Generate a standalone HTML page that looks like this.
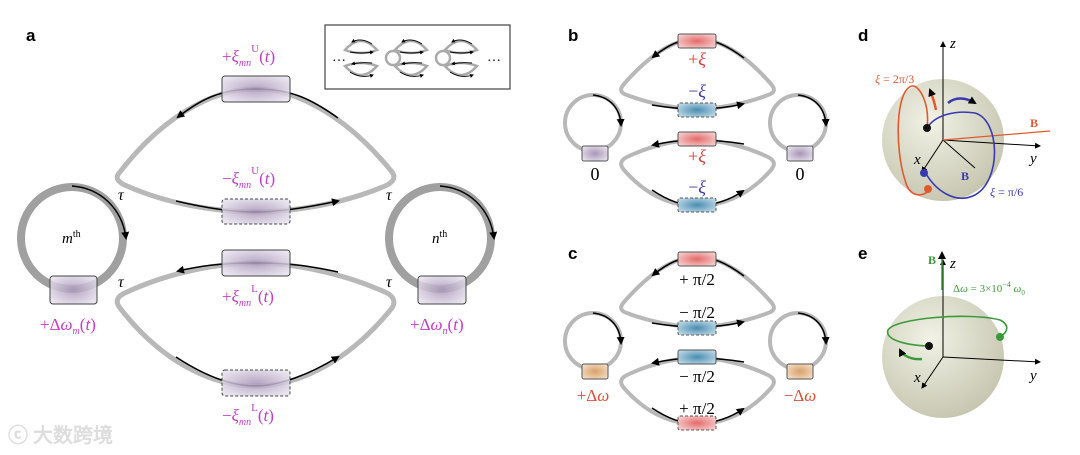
<!DOCTYPE html>
<html><head><meta charset="utf-8"><style>
html,body{margin:0;padding:0;background:#fff;}
svg{display:block;}
text{font-family:"Liberation Serif",serif;}
.lbl{font-family:"Liberation Sans",sans-serif;font-weight:bold;font-size:17px;fill:#000;}
.mg{fill:#c23cc8;font-size:17px;}
</style></head><body>
<svg width="1080" height="455" viewBox="0 0 1080 455" xmlns="http://www.w3.org/2000/svg">
<defs>
<radialGradient id="pu" cx="50%" cy="50%" r="60%"><stop offset="0" stop-color="#a896b8"/><stop offset="1" stop-color="#e6e0ec"/></radialGradient>
<radialGradient id="rd" cx="50%" cy="50%" r="60%"><stop offset="0" stop-color="#e46a6a"/><stop offset="1" stop-color="#f6cccc"/></radialGradient>
<radialGradient id="bl" cx="50%" cy="50%" r="60%"><stop offset="0" stop-color="#4a8cb0"/><stop offset="1" stop-color="#bcd8e6"/></radialGradient>
<radialGradient id="or" cx="50%" cy="50%" r="60%"><stop offset="0" stop-color="#d9a06a"/><stop offset="1" stop-color="#f3dcc4"/></radialGradient>
<radialGradient id="sp" cx="40%" cy="35%" r="70%"><stop offset="0" stop-color="#f2f2e6"/><stop offset="1" stop-color="#c4c4ae"/></radialGradient>
<marker id="ah" markerWidth="8" markerHeight="8" refX="6" refY="4" orient="auto" markerUnits="userSpaceOnUse"><path d="M0,0 L8,4 L0,8 Z" fill="#000"/></marker>
<marker id="ahs" markerWidth="6" markerHeight="6" refX="5" refY="3" orient="auto" markerUnits="userSpaceOnUse"><path d="M0,0 L6,3 L0,6 Z" fill="#000"/></marker>
<marker id="aht" markerWidth="4" markerHeight="4" refX="3" refY="2" orient="auto" markerUnits="userSpaceOnUse"><path d="M0,0 L4,2 L0,4 Z" fill="#000"/></marker>
</defs>

<!-- Panel a -->
<text x="26" y="41" class="lbl">a</text>
<rect x="325" y="25" width="185" height="64" fill="#fff" stroke="#444" stroke-width="1.2"/>
<g stroke="#aaa" stroke-width="2.5" fill="none">
 <path d="M345,50 Q361,32 377,50 Q361,56 345,50Z"/>
 <path d="M395,50 Q411,32 427,50 Q411,56 395,50Z"/>
 <path d="M445,50 Q461,32 477,50 Q461,56 445,50Z"/>
 <path d="M345,66 Q361,60 377,66 Q361,84 345,66Z"/>
 <path d="M395,66 Q411,60 427,66 Q411,84 395,66Z"/>
 <path d="M445,66 Q461,60 477,66 Q461,84 445,66Z"/>
 <circle cx="393" cy="58" r="7"/><circle cx="443" cy="58" r="7"/>
</g>
<g stroke="#000" stroke-width="0.9" fill="none">
 <path d="M372,44 Q361,37 352,42" marker-end="url(#aht)"/><path d="M422,44 Q411,37 402,42" marker-end="url(#aht)"/><path d="M472,44 Q461,37 452,42" marker-end="url(#aht)"/>
 <path d="M350,52 Q361,54 373,52" marker-end="url(#aht)"/><path d="M400,52 Q411,54 423,52" marker-end="url(#aht)"/><path d="M450,52 Q461,54 473,52" marker-end="url(#aht)"/>
 <path d="M372,63 Q361,62 352,64" marker-end="url(#aht)"/><path d="M422,63 Q411,62 402,64" marker-end="url(#aht)"/><path d="M472,63 Q461,62 452,64" marker-end="url(#aht)"/>
 <path d="M350,72 Q361,79 373,75" marker-end="url(#aht)"/><path d="M400,72 Q411,79 423,75" marker-end="url(#aht)"/><path d="M450,72 Q461,79 473,75" marker-end="url(#aht)"/>
</g>
<text x="332" y="61" font-size="14">…</text><text x="487" y="61" font-size="14">…</text>

<g fill="none" stroke="#b8b8b8" stroke-width="5" stroke-linejoin="round">
 <path d="M120,172 C160,120 210,89 255,89 C300,89 350,120 392,172 Q398,180 385,186 C340,205 290,212 255,212 C220,212 170,205 127,186 Q112,180 120,172Z"/>
 <path d="M127,292 C170,272 220,263 255,263 C290,263 340,272 385,292 Q398,298 392,308 C350,360 300,386 255,386 C210,386 160,360 120,308 Q112,298 127,292Z"/>
 <circle cx="72" cy="238" r="51" stroke="#a0a0a0" stroke-width="8"/>
 <circle cx="440" cy="238" r="51" stroke="#a0a0a0" stroke-width="8"/>
</g>
<g fill="none" stroke="#000" stroke-width="1.5">
 <path d="M338,118 C310,98 290,89 255,89 C220,89 200,100 178,117" marker-end="url(#ah)"/>
 <path d="M176,201 C210,209 235,212 255,212 C280,212 310,207 338,201" marker-end="url(#ah)"/>
 <path d="M338,272 C310,266 290,263 255,263 C220,263 200,266 178,271" marker-end="url(#ah)"/>
 <path d="M176,357 C205,376 232,386 255,386 C280,386 310,374 338,357" marker-end="url(#ah)"/>
 <path d="M72,186 C100,188 122,208 126,238" marker-end="url(#ah)"/>
 <path d="M440,186 C468,188 490,208 494,238" marker-end="url(#ah)"/>
</g>
<g stroke="#444" stroke-width="1">
 <rect x="222" y="76" width="68" height="26" rx="3" fill="url(#pu)" fill-opacity="0.85"/>
 <rect x="222" y="199" width="68" height="25" rx="3" fill="url(#pu)" fill-opacity="0.85" stroke-dasharray="3,2"/>
 <rect x="222" y="250" width="68" height="26" rx="3" fill="url(#pu)" fill-opacity="0.85"/>
 <rect x="222" y="370" width="68" height="26" rx="3" fill="url(#pu)" fill-opacity="0.85" stroke-dasharray="3,2"/>
 <rect x="50" y="276" width="47" height="28" rx="3" fill="url(#pu)" fill-opacity="0.85"/>
 <rect x="418" y="276" width="48" height="28" rx="3" fill="url(#pu)" fill-opacity="0.85"/>
</g>
<g font-style="italic" font-size="16">
 <text x="118" y="200">τ</text><text x="118" y="287">τ</text><text x="386" y="200">τ</text><text x="386" y="287">τ</text>
</g>
<text x="62" y="243" font-family="Liberation Sans" font-size="15" font-style="italic">m<tspan font-style="normal" font-size="10" dy="-6">th</tspan></text>
<text x="432" y="243" font-family="Liberation Sans" font-size="15" font-style="italic">n<tspan font-style="normal" font-size="10" dy="-6">th</tspan></text>
<g class="mg">
<text x="222" y="62" class="mg">+<tspan font-style="italic">ξ</tspan><tspan font-size="10" font-style="italic" dy="4">mn</tspan><tspan font-size="11" dy="-14">U</tspan><tspan dy="10">(</tspan><tspan font-style="italic">t</tspan>)</text>
<text x="222" y="184" class="mg">−<tspan font-style="italic">ξ</tspan><tspan font-size="10" font-style="italic" dy="4">mn</tspan><tspan font-size="11" dy="-14">U</tspan><tspan dy="10">(</tspan><tspan font-style="italic">t</tspan>)</text>
<text x="222" y="302" class="mg">+<tspan font-style="italic">ξ</tspan><tspan font-size="10" font-style="italic" dy="4">mn</tspan><tspan font-size="11" dy="-14">L</tspan><tspan dy="10">(</tspan><tspan font-style="italic">t</tspan>)</text>
<text x="222" y="421" class="mg">−<tspan font-style="italic">ξ</tspan><tspan font-size="10" font-style="italic" dy="4">mn</tspan><tspan font-size="11" dy="-14">L</tspan><tspan dy="10">(</tspan><tspan font-style="italic">t</tspan>)</text>
<text x="40" y="330" class="mg">+Δ<tspan font-style="italic">ω</tspan><tspan font-size="10" font-style="italic" dy="4">m</tspan><tspan dy="-4">(</tspan><tspan font-style="italic">t</tspan>)</text>
<text x="410" y="330" class="mg">+Δ<tspan font-style="italic">ω</tspan><tspan font-size="10" font-style="italic" dy="4">n</tspan><tspan dy="-4">(</tspan><tspan font-style="italic">t</tspan>)</text>
</g>
<text x="8" y="442" font-family="Liberation Sans,Noto Sans CJK SC,sans-serif" font-size="20" fill="#ddd" font-weight="bold">ⓒ 大数跨境</text>

<!-- Panels b and c -->
<text x="568" y="41" class="lbl">b</text>
<text x="568" y="259" class="lbl">c</text>
<g id="small">
<g fill="none" stroke="#b8b8b8" stroke-width="4" stroke-linejoin="round">
 <path d="M624,84 C645,60 670,39 697,39 C724,39 750,60 771,84 Q778,92 768,95 C745,104 715,109 697,109 C679,109 650,104 627,95 Q617,92 624,84Z"/>
 <path d="M627,157 C650,146 675,140 697,140 C719,140 745,146 768,157 Q778,162 771,170 C750,194 724,206 697,206 C670,206 645,194 624,170 Q617,162 627,157Z"/>
 <circle cx="593" cy="123" r="28"/><circle cx="798" cy="123" r="28"/>
</g>
<g fill="none" stroke="#000" stroke-width="1.5">
 <path d="M744,58 C725,44 712,39 697,39 C680,39 668,45 653,57" marker-end="url(#ah)"/>
 <path d="M652,105 C670,108 685,109 697,109 C715,109 730,107 743,104" marker-end="url(#ah)"/>
 <path d="M744,144 C725,141 712,140 697,140 C680,140 668,142 653,145" marker-end="url(#ah)"/>
 <path d="M652,190 C670,202 685,206 697,206 C715,205 730,200 743,191" marker-end="url(#ah)"/>
 <path d="M593,95 C610,97 620,108 621,125" marker-end="url(#ah)"/>
 <path d="M798,95 C815,97 825,108 826,125" marker-end="url(#ah)"/>
</g>
</g>
<g stroke="#555" stroke-width="1">
 <rect x="678" y="34" width="38" height="14" rx="2" fill="url(#rd)"/>
 <rect x="678" y="103" width="38" height="14" rx="2" fill="url(#bl)" stroke-dasharray="3,2"/>
 <rect x="678" y="132" width="38" height="14" rx="2" fill="url(#rd)"/>
 <rect x="678" y="198" width="38" height="14" rx="2" fill="url(#bl)" stroke-dasharray="3,2"/>
 <rect x="582" y="146" width="26" height="15" rx="2" fill="url(#pu)"/>
 <rect x="787" y="146" width="26" height="15" rx="2" fill="url(#pu)"/>
</g>
<g font-size="18" text-anchor="middle">
 <text x="697" y="65" fill="#d9403a">+<tspan font-style="italic">ξ</tspan></text>
 <text x="697" y="97" fill="#3a3ab0">−<tspan font-style="italic">ξ</tspan></text>
 <text x="697" y="162" fill="#d9403a">+<tspan font-style="italic">ξ</tspan></text>
 <text x="697" y="193" fill="#3a3ab0">−<tspan font-style="italic">ξ</tspan></text>
 <text x="595" y="180" fill="#000">0</text><text x="800" y="180" fill="#000">0</text>
</g>
<use href="#small" y="218"/>
<g stroke="#555" stroke-width="1">
 <rect x="678" y="252" width="38" height="14" rx="2" fill="url(#rd)"/>
 <rect x="678" y="321" width="38" height="14" rx="2" fill="url(#bl)" stroke-dasharray="3,2"/>
 <rect x="678" y="350" width="38" height="14" rx="2" fill="url(#bl)"/>
 <rect x="678" y="416" width="38" height="14" rx="2" fill="url(#rd)" stroke-dasharray="3,2"/>
 <rect x="582" y="364" width="26" height="15" rx="2" fill="url(#or)"/>
 <rect x="787" y="364" width="26" height="15" rx="2" fill="url(#or)"/>
</g>
<g font-size="17" text-anchor="middle">
 <text x="697" y="285">+ π/2</text>
 <text x="697" y="318">− π/2</text>
 <text x="697" y="382">− π/2</text>
 <text x="697" y="414">+ π/2</text>
 <text x="593" y="401" fill="#d9503a">+Δ<tspan font-style="italic">ω</tspan></text>
 <text x="800" y="401" fill="#d9503a">−Δ<tspan font-style="italic">ω</tspan></text>
</g>

<!-- Panel d -->
<text x="858" y="41" class="lbl">d</text>
<circle cx="943" cy="140" r="61" fill="url(#sp)"/>
<g stroke="#000" stroke-width="1" fill="none">
 <line x1="943" y1="140" x2="943" y2="42" marker-end="url(#ahs)"/>
 <line x1="943" y1="140" x2="1040" y2="146" marker-end="url(#ahs)"/>
 <line x1="943" y1="140" x2="922" y2="172" marker-end="url(#ahs)"/>
 <line x1="943" y1="140" x2="975" y2="168"/>
</g>
<line x1="943" y1="140" x2="1050" y2="131" stroke="#e05a30" stroke-width="1.3"/>
<path d="M927,128 C930,105 920,85 912,86 C895,90 895,150 905,180 C910,200 925,196 929,190" fill="none" stroke="#e05a30" stroke-width="1.6"/>
<path d="M936,110 C934,100 932,95 930,90" fill="none" stroke="#e05a30" stroke-width="2.5" marker-end="url(#ah)"/>
<path d="M927,128 C935,115 955,110 975,113 C1000,120 1002,180 975,195 C955,205 935,190 925,172" fill="none" stroke="#3a3ab0" stroke-width="1.6"/>
<path d="M948,103 C955,97 965,97 975,103" fill="none" stroke="#3a3ab0" stroke-width="2.5" marker-end="url(#ah)"/>
<circle cx="927" cy="128" r="4" fill="#111"/><circle cx="924" cy="173" r="4" fill="#3a3ab0"/><circle cx="928" cy="189" r="4" fill="#e05a30"/>
<text x="950" y="48" font-size="15" font-style="italic">z</text>
<text x="1030" y="163" font-size="15" font-style="italic">y</text>
<text x="914" y="164" font-size="15" font-style="italic">x</text>
<text x="1030" y="127" font-size="12" font-weight="bold" fill="#e05a30">B</text>
<text x="961" y="180" font-size="12" font-weight="bold" fill="#3a3ab0">B</text>
<text x="875" y="83" font-size="12" fill="#e05a30"><tspan font-style="italic">ξ</tspan> = 2π/3</text>
<text x="990" y="196" font-size="12" fill="#3a3ab0"><tspan font-style="italic">ξ</tspan> = π/6</text>

<!-- Panel e -->
<text x="858" y="259" class="lbl">e</text>
<circle cx="943" cy="357" r="61" fill="url(#sp)"/>
<g stroke="#000" stroke-width="1" fill="none">
 <line x1="943" y1="357" x2="943" y2="260" marker-end="url(#ahs)"/>
 <line x1="943" y1="357" x2="1040" y2="362" marker-end="url(#ahs)"/>
 <line x1="943" y1="357" x2="922" y2="388" marker-end="url(#ahs)"/>
</g>
<line x1="942" y1="290" x2="942" y2="253" stroke="#3a9a3a" stroke-width="1.5" marker-end="url(#ah)"/>
<path d="M929,346 C900,345 885,338 888,330 C895,318 970,312 1000,320 C1010,325 1008,332 1000,337" fill="none" stroke="#3a9a3a" stroke-width="1.6"/>
<path d="M922,359 C912,360 903,356 900,350" fill="none" stroke="#3a9a3a" stroke-width="2.5" marker-end="url(#ah)"/>
<circle cx="929" cy="346" r="4" fill="#111"/><circle cx="1000" cy="337" r="4" fill="#3a9a3a"/>
<text x="950" y="268" font-size="15" font-style="italic">z</text>
<text x="1030" y="380" font-size="15" font-style="italic">y</text>
<text x="914" y="382" font-size="15" font-style="italic">x</text>
<text x="928" y="264" font-size="12" font-weight="bold" fill="#3a9a3a">B</text>
<text x="953" y="292" font-size="11" fill="#3a9a3a">Δ<tspan font-style="italic">ω</tspan> = 3×10<tspan font-size="8" dy="-5">−4</tspan><tspan dy="5" font-style="italic"> ω</tspan><tspan font-size="7" dy="3">0</tspan></text>
</svg>
</body></html>
